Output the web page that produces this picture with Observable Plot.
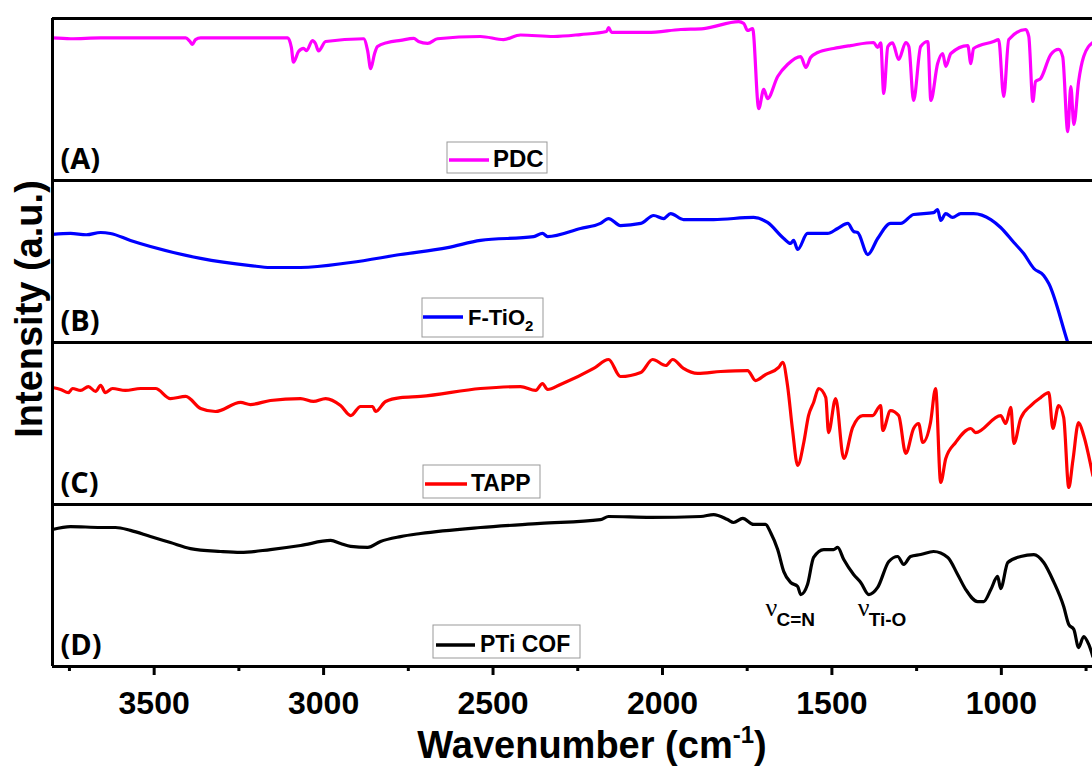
<!DOCTYPE html>
<html><head><meta charset="utf-8">
<script src="https://cdn.jsdelivr.net/npm/d3@7"></script>
<script src="https://cdn.jsdelivr.net/npm/@observablehq/plot@0.6"></script>
<style>body{margin:0;background:#fff} #chart svg{display:block}</style>
</head><body><div id="chart"></div>
<script>
const panels = ["A","B","C","D"];
const panelLabels = ["(A)","(B)","(C)","(D)"];
const seriesNames = ["PDC","F-TiO2","TAPP","PTi COF"];
const seriesColors = ["#ff00ff","#0000ff","#ff0000","#000000"];
const majorTicks = [3500,3000,2500,2000,1500,1000];
const minorTicks = [3750,3250,2750,2250,1750,1250,750];

const pdcWavenumber = [3800,3747,3658,3511,3407,3395,3387,3378,3363,3216,3106,3095,3089,3074,3059,3050,3033,3024,3015,2994,2882,2870,2861,2850,2841,2811,2773,2734,2720,2693,2664,2537,2469,2419,2321,2242,2165,2159,2150,2044,1946,1878,1775,1760,1749,1734,1716,1701,1690,1660,1631,1592,1577,1563,1542,1495,1445,1377,1365,1356,1347,1335,1321,1303,1282,1273,1259,1238,1217,1208,1188,1173,1164,1149,1099,1090,1082,1023,1008,993,978,928,919,907,899,884,854,831,819,804,795,786,772,757,730];
const pdcIntensity = [88,87.5,88,88,88,86,84,87,88,88,88,82,73,79.6,81.5,80.2,86.4,84.6,80,85.8,87.5,80,69,78,82.7,85.2,86.5,87.7,85.8,84.6,87.5,88.9,87,89.8,88.9,90.1,92,94.4,91.4,91.4,93.2,93.8,98.1,96.9,92.6,93.8,44.4,56.2,50.6,64.2,71.6,76.5,69.8,75.9,79,81.5,83.3,85.2,82.1,85,53.7,82.7,85,74.7,85.2,82.7,49.4,82.7,85.8,49.4,72.2,78.4,70.4,78.4,83.3,72.2,81.5,85.8,87,51.9,87,93.2,88.9,48.8,61.1,63,77.8,80.9,76.5,30.2,58,34.6,61.1,76.5,85.2];

const ftio2Wavenumber = [3800,3747,3700,3658,3629,3570,3511,3363,3216,3157,3068,2920,2773,2634,2537,2380,2354,2339,2242,2183,2159,2124,2064,2026,1997,1976,1938,1849,1731,1690,1642,1622,1613,1601,1572,1513,1483,1453,1436,1424,1394,1365,1327,1297,1259,1200,1188,1179,1164,1144,1120,1082,1031,1002,963,934,904,875,860,804,790];
const ftio2Intensity = [66.7,67.3,66.5,67.9,67.3,63,59.3,51.9,47.5,46.3,46.3,49.4,54.3,58.6,63,65.4,67.3,65.4,70.4,73.5,76.5,72.2,73.5,78.4,76.5,79.6,75.9,75.9,77.2,74.1,64.2,61.1,63,57.4,67.3,67.3,70.4,73.5,68.5,67.9,54.3,64.2,73.5,73.5,79,80.2,82.1,75.3,79.6,77.2,79.6,79.6,75.9,71,61.7,54.9,45.7,41.4,36.4,0,-9];

const tappWavenumber = [3800,3776,3753,3741,3717,3694,3673,3658,3644,3623,3585,3540,3496,3452,3407,3363,3319,3245,3216,3157,3068,3030,2994,2950,2920,2891,2855,2847,2817,2773,2714,2537,2419,2374,2354,2339,2301,2203,2159,2124,2064,2029,1990,1970,1938,1896,1828,1749,1725,1696,1657,1645,1631,1616,1601,1583,1569,1554,1539,1518,1510,1489,1465,1439,1409,1380,1356,1350,1327,1303,1282,1259,1244,1232,1209,1194,1179,1164,1135,1090,1076,1002,987,972,963,943,913,884,860,848,831,816,801,789,772,757,730];
const tappIntensity = [72.2,71,69.1,71.6,70.4,72.8,69.8,73.5,69.1,71.6,70.4,71.6,71.6,65.4,66.7,59.3,57.4,63,61.7,64.2,65.4,63.6,65.4,61.1,54.9,60.5,60.5,57.4,63.6,66,66.7,71.6,72.8,70.4,74.7,71,74.1,84,89.5,79,81.5,89.5,85.8,89.5,84,80.9,82.1,82.7,76.5,80.2,84.6,87.7,73.5,45.7,24.1,38.3,54.9,63,71.6,66,44.4,65.4,28.4,47.5,54.9,54.9,61.1,45.7,58,54.9,31.5,46.9,50,38.3,50.6,71.6,13.6,28.4,38.3,46.9,44.4,54.9,50,59.9,37.7,53.1,61.1,66,69.1,46.9,61.1,53.7,10.5,27,50.6,42.6,17.9];

const cofWavenumber = [3800,3747,3658,3614,3570,3511,3452,3393,3304,3245,3157,3068,2979,2950,2920,2870,2832,2773,2714,2537,2360,2183,2159,2035,1887,1849,1808,1790,1763,1731,1696,1681,1660,1642,1622,1601,1592,1572,1554,1524,1495,1483,1465,1436,1415,1391,1365,1332,1306,1288,1268,1238,1200,1158,1129,1105,1070,1052,1031,1011,1002,981,943,904,875,846,816,801,786,772,757,742,730];
const cofIntensity = [84.6,86.4,85.8,85.8,84,80.2,76.5,72.8,71,70.4,72.2,74.7,77.8,75.9,74.1,73.5,77.2,80.2,82.1,85.8,88.3,90.7,92.6,92,92.6,93.8,90.7,88.9,91.4,87.7,87.7,82.7,72.2,58.6,51.9,49.4,44.4,50.6,67.3,72.2,72.2,73.5,66,56.8,51.9,44.4,48.8,64.8,67.9,63,67.9,69.1,71,67.3,56.8,47.5,40.1,40.1,47.5,55.6,48.1,64.2,67.9,69.1,64.2,52.5,37,25.9,22.8,11.7,18.5,13.6,6.2];

const annotationWavenumber = [1696, 1424];
const annotationIntensity = [30.9, 30.9];
const annotationSubscripts = ["C=N", "Ti-O"];

const spectra = [
  [pdcWavenumber, pdcIntensity],
  [ftio2Wavenumber, ftio2Intensity],
  [tappWavenumber, tappIntensity],
  [cofWavenumber, cofIntensity]
];
const rows = spectra.flatMap(([w, v], i) => w.map((wn, j) => ({panel: panels[i], series: seriesNames[i], wn, v: v[j]})));
const labelRows = panels.map((p, i) => ({panel: p, label: panelLabels[i]}));
const annRows = annotationWavenumber.map((wn, i) => ({panel: "D", wn, v: annotationIntensity[i], sub: annotationSubscripts[i]}));

const plot = Plot.plot({
  width: 1092, height: 770,
  marginLeft: 52, marginRight: 0, marginTop: 17, marginBottom: 103,
  style: {fontFamily: "'Liberation Sans', Arial, sans-serif", background: "#fff", color: "#000"},
  x: {domain: [3800, 731], label: null},
  y: {domain: [0, 100], axis: null},
  fy: {domain: panels, padding: 0, axis: null, label: null},
  color: {domain: seriesNames, range: seriesColors},
  marks: [
    Plot.line(rows, {x: "wn", y: "v", fy: "panel", z: "series", stroke: "series", strokeWidth: 3.2, strokeLinejoin: "round", curve: "monotone-x", clip: true}),
    Plot.ruleY([0, 100], {stroke: "#000", strokeWidth: 3}),
    Plot.ruleX([3800], {stroke: "#000", strokeWidth: 3}),
    Plot.axisX({ticks: minorTicks, tickSize: 5, tickFormat: () => "", strokeWidth: 3, label: null}),
    Plot.axisX({ticks: majorTicks, tickSize: 9, tickPadding: 16, tickFormat: d => String(d), strokeWidth: 3, fontSize: 32, fontWeight: "bold", label: null}),
    Plot.text(labelRows, {fy: "panel", text: "label", frameAnchor: "bottom-left", textAnchor: "start", lineAnchor: "bottom", dx: 8, dy: -12, fontSize: 29, fontWeight: "bold", fontFamily: "'Open Sans', sans-serif"}),
    Plot.text(annRows, {fy: "panel", x: "wn", y: "v", text: () => "ν", textAnchor: "start", lineAnchor: "bottom", fontSize: 26, fontFamily: "'Liberation Serif', 'Times New Roman', serif"}),
    Plot.text(annRows, {fy: "panel", x: "wn", y: "v", text: "sub", textAnchor: "start", lineAnchor: "bottom", dx: 11, dy: 10, fontSize: 19, fontWeight: "bold"})
  ]
});

const svg = d3.select(plot);
// legends
const legendSpecs = [
  {i: 0, box: [447, 142, 100, 31], ly: 160, lx: [449, 489], tx: 493, ty: 167, fs: 24},
  {i: 1, box: [422, 298, 121, 39], ly: 317, lx: [423, 463], tx: 468, ty: 325, fs: 22},
  {i: 2, box: [423, 465, 117, 33], ly: 484, lx: [425, 467], tx: 471, ty: 491, fs: 23},
  {i: 3, box: [433, 625, 147, 33], ly: 645, lx: [436, 475], tx: 480, ty: 652, fs: 23}
];
for (const s of legendSpecs) {
  const g = svg.append("g").attr("text-anchor", "start");
  g.append("rect").attr("x", s.box[0]).attr("y", s.box[1]).attr("width", s.box[2]).attr("height", s.box[3])
    .attr("fill", "#fff").attr("stroke", "#999").attr("stroke-width", 1);
  g.append("line").attr("x1", s.lx[0]).attr("x2", s.lx[1]).attr("y1", s.ly).attr("y2", s.ly)
    .attr("stroke", seriesColors[s.i]).attr("stroke-width", 3.5);
  const t = g.append("text").attr("x", s.tx).attr("y", s.ty).attr("text-anchor", "start").attr("font-size", s.fs).attr("font-weight", "bold")
    .attr("font-family", "'Liberation Sans', Arial, sans-serif").attr("fill", "#000");
  if (s.i === 1) {
    t.append("tspan").text("F-TiO");
    t.append("tspan").attr("font-size", 15).attr("dy", 6).text("2");
  } else {
    t.text(seriesNames[s.i]);
  }
}
// axis titles
const xt = svg.append("text").attr("x", 592).attr("y", 758).attr("text-anchor", "middle")
  .attr("font-size", 38).attr("font-weight", "bold").attr("font-family", "'Liberation Sans', Arial, sans-serif").attr("fill", "#000");
xt.append("tspan").text("Wavenumber (cm");
xt.append("tspan").attr("font-size", 24).attr("dy", -15).text("-1");
xt.append("tspan").attr("dy", 15).text(")");
svg.append("text").attr("transform", "translate(42,309) rotate(-90)").attr("text-anchor", "middle")
  .attr("font-size", 38).attr("font-weight", "bold").attr("font-family", "'Liberation Sans', Arial, sans-serif").attr("fill", "#000")
  .text("Intensity (a.u.)");

document.getElementById("chart").appendChild(plot);
</script>
</body></html>
